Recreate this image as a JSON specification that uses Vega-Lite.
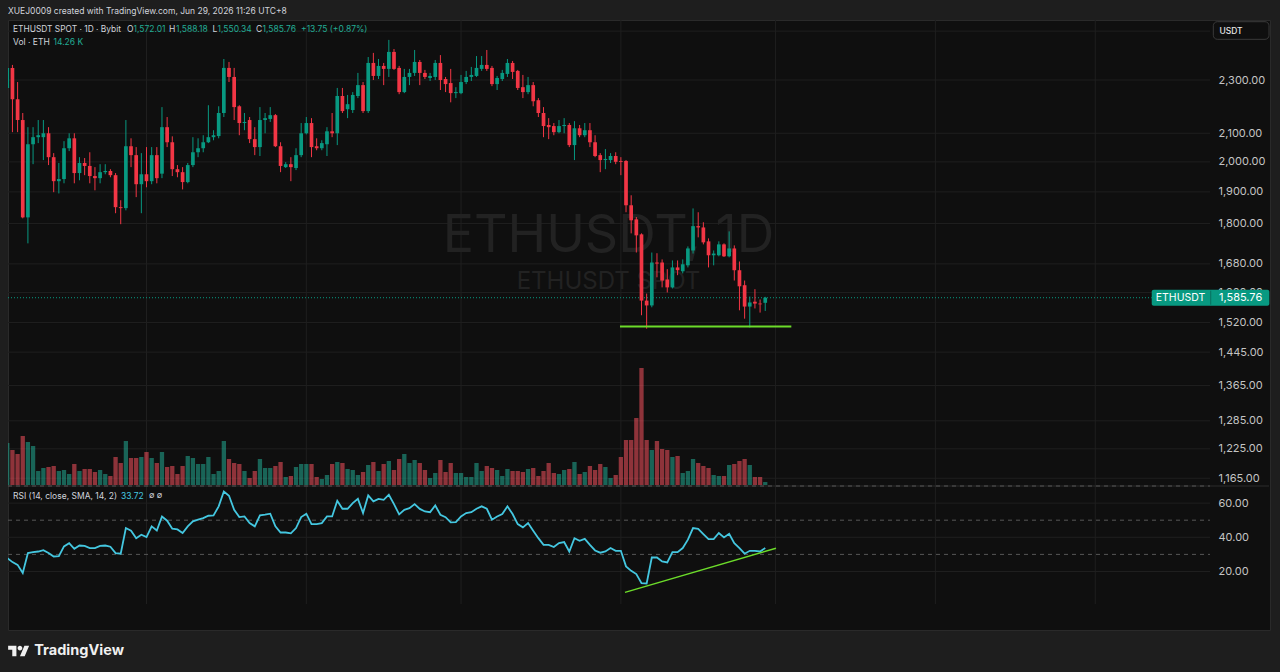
{
"$schema":"https://vega.github.io/schema/vega-lite/v6.json",
"width":1262,"height":610,
"autosize":{"type":"none"},
"padding":{"left":8,"top":20,"right":10,"bottom":42},
"background":"#1e1e1e",
"title":{"text":"XUEJ0009 created with TradingView.com, Jun 29, 2026 11:26 UTC+8","anchor":"start","frame":"group","fontSize":8.5,"fontWeight":400,"color":"#d1d4dc","offset":6,"dy":9,"baseline":"alphabetic","font":"Inter"},
"config":{"font":"Inter","view":{"fill":"#0f0f0f","stroke":"#2a2a2a","strokeWidth":1}},
"datasets":{"ohlc":[
{"date":"2026-02-02","open":2269,"high":2392,"low":2155,"close":2348,"volume":201.6,"rsi":27.8},
{"date":"2026-02-03","open":2348,"high":2360,"low":2104,"close":2226,"volume":168,"rsi":25.5},
{"date":"2026-02-04","open":2226,"high":2292,"low":2104,"close":2148,"volume":148.8,"rsi":23.9},
{"date":"2026-02-05","open":2148,"high":2174,"low":1816,"close":1819,"volume":235.2,"rsi":19.1},
{"date":"2026-02-06","open":1819,"high":2122,"low":1740,"close":2061,"volume":206.4,"rsi":30.8},
{"date":"2026-02-07","open":2061,"high":2122,"low":1992,"close":2086,"volume":187.2,"rsi":31.3},
{"date":"2026-02-08","open":2086,"high":2148,"low":2065,"close":2093,"volume":67.2,"rsi":31.7},
{"date":"2026-02-09","open":2086,"high":2148,"low":2006,"close":2100,"volume":81.6,"rsi":32.5},
{"date":"2026-02-10","open":2100,"high":2122,"low":1989,"close":2016,"volume":86.4,"rsi":30.8},
{"date":"2026-02-11","open":2016,"high":2030,"low":1899,"close":1935,"volume":91.2,"rsi":28.8},
{"date":"2026-02-12","open":1935,"high":1996,"low":1895,"close":1942,"volume":67.2,"rsi":29.0},
{"date":"2026-02-13","open":1942,"high":2072,"low":1928,"close":2047,"volume":72,"rsi":34.7},
{"date":"2026-02-14","open":2047,"high":2100,"low":2037,"close":2082,"volume":52.8,"rsi":36.6},
{"date":"2026-02-15","open":2082,"high":2100,"low":1928,"close":1962,"volume":100.8,"rsi":33.3},
{"date":"2026-02-16","open":1962,"high":2016,"low":1938,"close":1996,"volume":67.2,"rsi":35.2},
{"date":"2026-02-17","open":1996,"high":2013,"low":1955,"close":1986,"volume":76.8,"rsi":35.0},
{"date":"2026-02-18","open":1986,"high":2033,"low":1928,"close":1952,"volume":76.8,"rsi":33.7},
{"date":"2026-02-19","open":1952,"high":1982,"low":1905,"close":1945,"volume":62.4,"rsi":33.7},
{"date":"2026-02-20","open":1945,"high":1992,"low":1928,"close":1965,"volume":72,"rsi":35.0},
{"date":"2026-02-21","open":1965,"high":1992,"low":1958,"close":1969,"volume":52.8,"rsi":35.2},
{"date":"2026-02-22","open":1969,"high":1975,"low":1948,"close":1955,"volume":43.2,"rsi":34.5},
{"date":"2026-02-23","open":1955,"high":1962,"low":1832,"close":1851,"volume":134.4,"rsi":30.8},
{"date":"2026-02-24","open":1851,"high":1873,"low":1798,"close":1848,"volume":105.6,"rsi":30.4},
{"date":"2026-02-25","open":1848,"high":2148,"low":1841,"close":2054,"volume":211.2,"rsi":45.4},
{"date":"2026-02-26","open":2054,"high":2082,"low":1982,"close":2023,"volume":129.6,"rsi":43.8},
{"date":"2026-02-27","open":2023,"high":2051,"low":1883,"close":1925,"volume":129.6,"rsi":39.5},
{"date":"2026-02-28","open":1925,"high":2030,"low":1832,"close":1958,"volume":134.4,"rsi":41.5},
{"date":"2026-03-01","open":1958,"high":2051,"low":1915,"close":1935,"volume":158.4,"rsi":40.1},
{"date":"2026-03-02","open":1935,"high":2051,"low":1925,"close":2023,"volume":129.6,"rsi":46.4},
{"date":"2026-03-03","open":2023,"high":2051,"low":1928,"close":1945,"volume":105.6,"rsi":44.0},
{"date":"2026-03-04","open":1960,"high":2196,"low":1945,"close":2122,"volume":158.4,"rsi":52.2},
{"date":"2026-03-05","open":2122,"high":2159,"low":2051,"close":2068,"volume":86.4,"rsi":49.7},
{"date":"2026-03-06","open":2068,"high":2089,"low":1952,"close":1975,"volume":91.2,"rsi":45.0},
{"date":"2026-03-07","open":1975,"high":1989,"low":1948,"close":1965,"volume":52.8,"rsi":44.6},
{"date":"2026-03-08","open":1965,"high":1982,"low":1908,"close":1932,"volume":91.2,"rsi":42.5},
{"date":"2026-03-09","open":1932,"high":1996,"low":1928,"close":1989,"volume":139.2,"rsi":46.4},
{"date":"2026-03-10","open":1989,"high":2086,"low":1982,"close":2033,"volume":129.6,"rsi":49.3},
{"date":"2026-03-11","open":2033,"high":2082,"low":2016,"close":2047,"volume":100.8,"rsi":50.3},
{"date":"2026-03-12","open":2047,"high":2093,"low":2033,"close":2068,"volume":100.8,"rsi":51.2},
{"date":"2026-03-13","open":2068,"high":2203,"low":2065,"close":2086,"volume":134.4,"rsi":52.6},
{"date":"2026-03-14","open":2086,"high":2111,"low":2075,"close":2093,"volume":52.8,"rsi":52.8},
{"date":"2026-03-15","open":2090,"high":2199,"low":2082,"close":2174,"volume":67.2,"rsi":58.1},
{"date":"2026-03-16","open":2174,"high":2384,"low":2159,"close":2348,"volume":211.2,"rsi":66.8},
{"date":"2026-03-17","open":2348,"high":2372,"low":2292,"close":2312,"volume":124.8,"rsi":64.3},
{"date":"2026-03-18","open":2312,"high":2348,"low":2148,"close":2196,"volume":105.6,"rsi":56.1},
{"date":"2026-03-19","open":2199,"high":2203,"low":2093,"close":2137,"volume":100.8,"rsi":51.8},
{"date":"2026-03-20","open":2137,"high":2174,"low":2111,"close":2141,"volume":67.2,"rsi":52.2},
{"date":"2026-03-21","open":2148,"high":2159,"low":2065,"close":2079,"volume":33.6,"rsi":48.3},
{"date":"2026-03-22","open":2079,"high":2122,"low":2023,"close":2051,"volume":67.2,"rsi":46.4},
{"date":"2026-03-23","open":2051,"high":2196,"low":2020,"close":2148,"volume":124.8,"rsi":52.8},
{"date":"2026-03-24","open":2148,"high":2174,"low":2100,"close":2155,"volume":81.6,"rsi":53.2},
{"date":"2026-03-25","open":2152,"high":2196,"low":2141,"close":2166,"volume":81.6,"rsi":53.8},
{"date":"2026-03-26","open":2166,"high":2170,"low":2051,"close":2054,"volume":91.2,"rsi":46.4},
{"date":"2026-03-27","open":2054,"high":2068,"low":1965,"close":1986,"volume":110.4,"rsi":42.8},
{"date":"2026-03-28","open":1982,"high":1999,"low":1979,"close":1992,"volume":38.4,"rsi":42.8},
{"date":"2026-03-29","open":1992,"high":2016,"low":1935,"close":1982,"volume":43.2,"rsi":42.3},
{"date":"2026-03-30","open":1979,"high":2047,"low":1972,"close":2023,"volume":86.4,"rsi":45.4},
{"date":"2026-03-31","open":2023,"high":2137,"low":2016,"close":2100,"volume":100.8,"rsi":51.8},
{"date":"2026-04-01","open":2100,"high":2159,"low":2096,"close":2137,"volume":100.8,"rsi":53.8},
{"date":"2026-04-02","open":2137,"high":2155,"low":2016,"close":2051,"volume":100.8,"rsi":47.7},
{"date":"2026-04-03","open":2054,"high":2082,"low":2040,"close":2047,"volume":38.4,"rsi":47.7},
{"date":"2026-04-04","open":2047,"high":2075,"low":2040,"close":2065,"volume":28.8,"rsi":48.3},
{"date":"2026-04-05","open":2061,"high":2122,"low":2020,"close":2107,"volume":48,"rsi":52.2},
{"date":"2026-04-06","open":2107,"high":2174,"low":2086,"close":2100,"volume":100.8,"rsi":52.2},
{"date":"2026-04-07","open":2100,"high":2269,"low":2058,"close":2238,"volume":110.4,"rsi":61.4},
{"date":"2026-04-08","open":2238,"high":2269,"low":2174,"close":2181,"volume":105.6,"rsi":56.7},
{"date":"2026-04-09","open":2188,"high":2242,"low":2155,"close":2207,"volume":76.8,"rsi":56.7},
{"date":"2026-04-10","open":2185,"high":2253,"low":2174,"close":2242,"volume":72,"rsi":60.0},
{"date":"2026-04-11","open":2238,"high":2328,"low":2230,"close":2280,"volume":48,"rsi":62.5},
{"date":"2026-04-12","open":2280,"high":2292,"low":2174,"close":2181,"volume":62.4,"rsi":54.2},
{"date":"2026-04-13","open":2181,"high":2392,"low":2174,"close":2368,"volume":96,"rsi":64.5},
{"date":"2026-04-14","open":2368,"high":2409,"low":2300,"close":2316,"volume":110.4,"rsi":61.0},
{"date":"2026-04-15","open":2316,"high":2384,"low":2304,"close":2356,"volume":67.2,"rsi":62.5},
{"date":"2026-04-16","open":2356,"high":2368,"low":2280,"close":2344,"volume":100.8,"rsi":61.9},
{"date":"2026-04-17","open":2344,"high":2463,"low":2312,"close":2413,"volume":115.2,"rsi":64.9},
{"date":"2026-04-18","open":2413,"high":2425,"low":2340,"close":2344,"volume":72,"rsi":59.4},
{"date":"2026-04-19","open":2348,"high":2356,"low":2245,"close":2253,"volume":124.8,"rsi":53.4},
{"date":"2026-04-20","open":2253,"high":2344,"low":2249,"close":2312,"volume":148.8,"rsi":56.1},
{"date":"2026-04-21","open":2312,"high":2344,"low":2280,"close":2328,"volume":105.6,"rsi":57.0},
{"date":"2026-04-22","open":2328,"high":2421,"low":2316,"close":2372,"volume":120,"rsi":59.4},
{"date":"2026-04-23","open":2372,"high":2380,"low":2280,"close":2328,"volume":105.6,"rsi":56.6},
{"date":"2026-04-24","open":2328,"high":2340,"low":2304,"close":2312,"volume":72,"rsi":55.1},
{"date":"2026-04-25","open":2308,"high":2328,"low":2296,"close":2316,"volume":33.6,"rsi":54.7},
{"date":"2026-04-26","open":2312,"high":2380,"low":2300,"close":2368,"volume":57.6,"rsi":58.6},
{"date":"2026-04-27","open":2368,"high":2400,"low":2261,"close":2300,"volume":120,"rsi":53.2},
{"date":"2026-04-28","open":2304,"high":2312,"low":2253,"close":2284,"volume":62.4,"rsi":51.8},
{"date":"2026-04-29","open":2288,"high":2344,"low":2214,"close":2249,"volume":105.6,"rsi":48.7},
{"date":"2026-04-30","open":2249,"high":2272,"low":2230,"close":2253,"volume":57.6,"rsi":48.9},
{"date":"2026-05-01","open":2249,"high":2320,"low":2245,"close":2292,"volume":57.6,"rsi":52.2},
{"date":"2026-05-02","open":2292,"high":2336,"low":2284,"close":2312,"volume":38.4,"rsi":54.2},
{"date":"2026-05-03","open":2312,"high":2352,"low":2296,"close":2320,"volume":38.4,"rsi":54.7},
{"date":"2026-05-04","open":2316,"high":2396,"low":2312,"close":2348,"volume":105.6,"rsi":56.7},
{"date":"2026-05-05","open":2344,"high":2396,"low":2336,"close":2360,"volume":67.2,"rsi":58.1},
{"date":"2026-05-06","open":2360,"high":2421,"low":2336,"close":2344,"volume":91.2,"rsi":56.7},
{"date":"2026-05-07","open":2348,"high":2356,"low":2276,"close":2284,"volume":81.6,"rsi":50.3},
{"date":"2026-05-08","open":2284,"high":2316,"low":2261,"close":2308,"volume":72,"rsi":52.2},
{"date":"2026-05-09","open":2304,"high":2340,"low":2296,"close":2328,"volume":43.2,"rsi":53.6},
{"date":"2026-05-10","open":2324,"high":2384,"low":2312,"close":2368,"volume":76.8,"rsi":58.1},
{"date":"2026-05-11","open":2368,"high":2376,"low":2304,"close":2332,"volume":67.2,"rsi":53.6},
{"date":"2026-05-12","open":2336,"high":2340,"low":2261,"close":2269,"volume":67.2,"rsi":47.7},
{"date":"2026-05-13","open":2272,"high":2320,"low":2230,"close":2253,"volume":62.4,"rsi":45.8},
{"date":"2026-05-14","open":2253,"high":2312,"low":2245,"close":2280,"volume":76.8,"rsi":48.3},
{"date":"2026-05-15","open":2280,"high":2292,"low":2199,"close":2218,"volume":81.6,"rsi":43.8},
{"date":"2026-05-16","open":2222,"high":2230,"low":2159,"close":2174,"volume":43.2,"rsi":39.5},
{"date":"2026-05-17","open":2174,"high":2196,"low":2086,"close":2126,"volume":67.2,"rsi":35.6},
{"date":"2026-05-18","open":2130,"high":2155,"low":2079,"close":2122,"volume":105.6,"rsi":35.6},
{"date":"2026-05-19","open":2126,"high":2137,"low":2093,"close":2104,"volume":57.6,"rsi":34.3},
{"date":"2026-05-20","open":2104,"high":2148,"low":2100,"close":2126,"volume":52.8,"rsi":36.6},
{"date":"2026-05-21","open":2126,"high":2155,"low":2100,"close":2130,"volume":72,"rsi":37.2},
{"date":"2026-05-22","open":2130,"high":2137,"low":2051,"close":2058,"volume":76.8,"rsi":31.7},
{"date":"2026-05-23","open":2058,"high":2144,"low":2006,"close":2118,"volume":110.4,"rsi":39.5},
{"date":"2026-05-24","open":2118,"high":2130,"low":2086,"close":2093,"volume":52.8,"rsi":38.0},
{"date":"2026-05-25","open":2093,"high":2137,"low":2086,"close":2111,"volume":62.4,"rsi":39.1},
{"date":"2026-05-26","open":2111,"high":2137,"low":2051,"close":2068,"volume":91.2,"rsi":35.6},
{"date":"2026-05-27","open":2068,"high":2093,"low":2016,"close":2020,"volume":72,"rsi":32.3},
{"date":"2026-05-28","open":2023,"high":2030,"low":1965,"close":2006,"volume":100.8,"rsi":31.0},
{"date":"2026-05-29","open":2006,"high":2044,"low":1975,"close":2010,"volume":86.4,"rsi":31.7},
{"date":"2026-05-30","open":2006,"high":2030,"low":1996,"close":2020,"volume":33.6,"rsi":33.7},
{"date":"2026-05-31","open":2020,"high":2033,"low":1992,"close":2000,"volume":48,"rsi":32.1},
{"date":"2026-06-01","open":2003,"high":2016,"low":1955,"close":2000,"volume":134.4,"rsi":32.1},
{"date":"2026-06-02","open":2003,"high":2006,"low":1835,"close":1857,"volume":216,"rsi":23.0},
{"date":"2026-06-03","open":1857,"high":1889,"low":1770,"close":1810,"volume":216,"rsi":20.4},
{"date":"2026-06-04","open":1813,"high":1820,"low":1713,"close":1764,"volume":321.6,"rsi":18.5},
{"date":"2026-06-05","open":1767,"high":1770,"low":1539,"close":1578,"volume":561.6,"rsi":13.2},
{"date":"2026-06-06","open":1578,"high":1597,"low":1504,"close":1565,"volume":216,"rsi":13.0},
{"date":"2026-06-07","open":1565,"high":1713,"low":1560,"close":1684,"volume":168,"rsi":28.2},
{"date":"2026-06-08","open":1684,"high":1711,"low":1642,"close":1681,"volume":211.2,"rsi":28.2},
{"date":"2026-06-09","open":1684,"high":1693,"low":1614,"close":1633,"volume":172.8,"rsi":25.9},
{"date":"2026-06-10","open":1636,"high":1665,"low":1600,"close":1614,"volume":168,"rsi":25.3},
{"date":"2026-06-11","open":1614,"high":1690,"low":1611,"close":1670,"volume":134.4,"rsi":31.3},
{"date":"2026-06-12","open":1670,"high":1690,"low":1648,"close":1662,"volume":139.2,"rsi":31.3},
{"date":"2026-06-13","open":1659,"high":1693,"low":1653,"close":1679,"volume":57.6,"rsi":33.7},
{"date":"2026-06-14","open":1676,"high":1731,"low":1670,"close":1725,"volume":67.2,"rsi":38.6},
{"date":"2026-06-15","open":1719,"high":1847,"low":1710,"close":1792,"volume":124.8,"rsi":45.4},
{"date":"2026-06-16","open":1792,"high":1835,"low":1758,"close":1788,"volume":105.6,"rsi":45.0},
{"date":"2026-06-17","open":1788,"high":1804,"low":1737,"close":1743,"volume":91.2,"rsi":41.9},
{"date":"2026-06-18","open":1746,"high":1755,"low":1670,"close":1705,"volume":81.6,"rsi":38.9},
{"date":"2026-06-19","open":1705,"high":1719,"low":1676,"close":1710,"volume":48,"rsi":38.9},
{"date":"2026-06-20","open":1705,"high":1746,"low":1702,"close":1737,"volume":43.2,"rsi":42.5},
{"date":"2026-06-21","open":1737,"high":1740,"low":1700,"close":1702,"volume":43.2,"rsi":39.9},
{"date":"2026-06-22","open":1702,"high":1776,"low":1699,"close":1725,"volume":96,"rsi":42.1},
{"date":"2026-06-23","open":1725,"high":1734,"low":1633,"close":1662,"volume":100.8,"rsi":36.6},
{"date":"2026-06-24","open":1662,"high":1687,"low":1552,"close":1617,"volume":115.2,"rsi":33.7},
{"date":"2026-06-25","open":1620,"high":1633,"low":1530,"close":1562,"volume":124.8,"rsi":30.4},
{"date":"2026-06-26","open":1562,"high":1589,"low":1507,"close":1573,"volume":96,"rsi":32.1},
{"date":"2026-06-27","open":1575,"high":1609,"low":1557,"close":1570,"volume":38.4,"rsi":32.1},
{"date":"2026-06-28","open":1570,"high":1581,"low":1546,"close":1568,"volume":38.4,"rsi":31.7},
{"date":"2026-06-29","open":1572.01,"high":1588.18,"low":1550.34,"close":1585.76,"volume":14.26,"rsi":33.72}
]},
"resolve":{"scale":{"y":"independent"},"axis":{"y":"independent"}},
"layer":[
{"data":{"values":[{"m":"2026-03-01"},{"m":"2026-04-01"},{"m":"2026-05-01"},{"m":"2026-06-01"},{"m":"2026-07-01"},{"m":"2026-08-01"},{"m":"2026-09-01"}]},
 "mark":{"type":"rule","color":"#1f1f1f","strokeWidth":1},
 "encoding":{
  "x":{"field":"m","type":"temporal","scale":{"type":"utc","domain":[{"year":2026,"month":2,"date":2,"hours":3,"minutes":19,"utc":true},{"year":2026,"month":9,"date":23,"hours":6,"minutes":14,"utc":true}],"range":[0,1202],"nice":false,"padding":0},
   "axis":{"orient":"bottom","offset":-26,"values":[{"year":2026,"month":3,"date":1,"utc":true},{"year":2026,"month":4,"date":1,"utc":true},{"year":2026,"month":5,"date":1,"utc":true},{"year":2026,"month":6,"date":1,"utc":true},{"year":2026,"month":7,"date":1,"utc":true},{"year":2026,"month":8,"date":1,"utc":true},{"year":2026,"month":9,"date":1,"utc":true}],"labelExpr":"utcFormat(datum.value, '%b')","domain":false,"ticks":false,"grid":false,"labelPadding":7,"labelColor":"#c4c4c4","labelFontSize":11.5,"labelFontWeight":500,"labelFont":"Inter","labelFlush":false,"labelOverlap":false,"labelBaseline":"top","title":null}},
  "y":{"datum":0,"type":"quantitative","scale":{"type":"linear","domain":[0,1],"range":[584,0],"nice":false,"zero":false},"axis":null},
  "y2":{"datum":1}}},
{"data":{"values":[{"p":1165},{"p":1225},{"p":1285},{"p":1365},{"p":1445},{"p":1520},{"p":1600},{"p":1680},{"p":1800},{"p":1900},{"p":2000},{"p":2100},{"p":2300},{"p":2500}]},
 "mark":{"type":"rule","color":"#1f1f1f","strokeWidth":1},
 "encoding":{
  "y":{"field":"p","type":"quantitative","scale":{"type":"log","domain":[1149.7,2548.2],"range":[466,0],"nice":false},
   "axis":{"orient":"right","values":[1165,1225,1285,1365,1445,1520,1600,1680,1800,1900,2000,2100,2300],"format":",.2f","labelPadding":-52,"tickSize":0,"ticks":false,"domain":false,"grid":false,"labelAlign":"left","labelBaseline":"middle","labelColor":"#c4c4c4","labelFontSize":11,"labelFont":"Inter","labelFlush":false,"labelOverlap":false,"title":null}},
  "x":{"datum":{"year":2026,"month":2,"date":2,"hours":3,"minutes":19,"utc":true},"type":"temporal","axis":null},
  "x2":{"datum":{"year":2026,"month":9,"date":23,"hours":6,"minutes":14,"utc":true}}}},
{"data":{"values":[{"r":20},{"r":40},{"r":60}]},
 "mark":{"type":"rule","color":"#1f1f1f","strokeWidth":1},
 "encoding":{
  "y":{"field":"r","type":"quantitative","scale":{"type":"linear","domain":[1,70],"range":[584,466],"nice":false,"zero":false},
   "axis":{"orient":"right","values":[20,40,60],"format":".2f","labelPadding":-52,"tickSize":0,"ticks":false,"domain":false,"grid":false,"labelAlign":"left","labelBaseline":"middle","labelColor":"#c4c4c4","labelFontSize":11,"labelFont":"Inter","labelFlush":false,"labelOverlap":false,"title":null}},
  "x":{"datum":{"year":2026,"month":2,"date":2,"hours":3,"minutes":19,"utc":true},"type":"temporal","axis":null},
  "x2":{"datum":{"year":2026,"month":9,"date":23,"hours":6,"minutes":14,"utc":true}}}},
{"data":{"values":[{}]},
 "mark":{"type":"rule","color":"#2c2c2c","strokeWidth":1},
 "encoding":{
  "y":{"datum":70,"type":"quantitative","scale":{"type":"linear","domain":[1,70],"range":[584,466],"nice":false,"zero":false},"axis":null},
  "x":{"datum":{"year":2026,"month":2,"date":2,"hours":3,"minutes":19,"utc":true},"type":"temporal","axis":null},
  "x2":{"datum":{"year":2026,"month":10,"date":4,"hours":17,"utc":true}}}},
{"data":{"values":[{"r":30},{"r":50},{"r":70}]},
 "mark":{"type":"rule","color":"#575757","strokeWidth":1,"strokeDash":[4,4]},
 "encoding":{
  "y":{"field":"r","type":"quantitative","scale":{"type":"linear","domain":[1,70],"range":[584,466],"nice":false,"zero":false},"axis":null},
  "x":{"datum":{"year":2026,"month":2,"date":2,"hours":3,"minutes":19,"utc":true},"type":"temporal","axis":null},
  "x2":{"datum":{"year":2026,"month":9,"date":23,"hours":6,"minutes":14,"utc":true}}}},
{"data":{"values":[{}]},
 "mark":{"type":"text","text":"ETHUSDT, 1D","fontSize":52,"color":"#222222","align":"center","baseline":"middle","font":"Inter"},
 "encoding":{
  "x":{"datum":{"year":2026,"month":5,"date":29,"hours":14,"minutes":24,"utc":true},"type":"temporal","axis":null},
  "y":{"datum":1762,"type":"quantitative","scale":{"type":"log","domain":[1149.7,2548.2],"range":[466,0],"nice":false},"axis":null}}},
{"data":{"values":[{}]},
 "mark":{"type":"text","text":"ETHUSDT SPOT","fontSize":24,"color":"#222222","align":"center","baseline":"middle","font":"Inter"},
 "encoding":{
  "x":{"datum":{"year":2026,"month":5,"date":29,"hours":14,"minutes":24,"utc":true},"type":"temporal","axis":null},
  "y":{"datum":1628.9,"type":"quantitative","scale":{"type":"log","domain":[1149.7,2548.2],"range":[466,0],"nice":false},"axis":null}}},
{"data":{"name":"ohlc"},
 "mark":{"type":"bar","size":4.3,"opacity":0.55,"clip":true},
 "encoding":{
  "x":{"field":"date","type":"temporal","axis":null},
  "y":{"field":"volume","type":"quantitative","scale":{"type":"linear","domain":[0,2232],"range":[465,0],"nice":false},"axis":null},
  "color":{"condition":{"test":"datum.close >= datum.open","value":"#22ab94"},"value":"#f7525f"}}},
{"data":{"values":[{}]},
 "mark":{"type":"rule","color":"#089981","strokeWidth":1,"strokeDash":[1,2]},
 "encoding":{
  "y":{"datum":1585.76,"type":"quantitative","scale":{"type":"log","domain":[1149.7,2548.2],"range":[466,0],"nice":false},"axis":null},
  "x":{"datum":{"year":2026,"month":2,"date":2,"hours":3,"minutes":19,"utc":true},"type":"temporal","axis":null},
  "x2":{"datum":{"year":2026,"month":9,"date":11,"hours":23,"utc":true}}}},
{"data":{"name":"ohlc"},
 "mark":{"type":"rule","strokeWidth":1,"clip":true},
 "encoding":{
  "x":{"field":"date","type":"temporal","axis":null},
  "y":{"field":"low","type":"quantitative","scale":{"type":"log","domain":[1149.7,2548.2],"range":[466,0],"nice":false},"axis":null},
  "y2":{"field":"high"},
  "color":{"condition":{"test":"datum.close >= datum.open","value":"#089981"},"value":"#f23645"}}},
{"data":{"name":"ohlc"},
 "mark":{"type":"bar","size":3.7,"clip":true},
 "encoding":{
  "x":{"field":"date","type":"temporal","axis":null},
  "y":{"field":"open","type":"quantitative","scale":{"type":"log","domain":[1149.7,2548.2],"range":[466,0],"nice":false},"axis":null},
  "y2":{"field":"close"},
  "color":{"condition":{"test":"datum.close >= datum.open","value":"#089981"},"value":"#f23645"}}},
{"data":{"values":[{"start":"2026-05-31T19:55:00Z","end":"2026-07-04T01:26:00Z","price":1509.7}]},
 "mark":{"type":"rule","color":"#6cdc2a","strokeWidth":2},
 "encoding":{
  "x":{"field":"start","type":"temporal","axis":null},
  "x2":{"field":"end"},
  "y":{"field":"price","type":"quantitative","scale":{"type":"log","domain":[1149.7,2548.2],"range":[466,0],"nice":false},"axis":null}}},
{"data":{"name":"ohlc"},
 "mark":{"type":"line","color":"#44c7e0","strokeWidth":1.8,"clip":true},
 "encoding":{
  "x":{"field":"date","type":"temporal","axis":null},
  "y":{"field":"rsi","type":"quantitative","scale":{"type":"linear","domain":[1,70],"range":[584,466],"nice":false,"zero":false},"axis":null}}},
{"data":{"values":[{"date":"2026-06-01T19:12:00Z","rsi":7.8},{"date":"2026-07-01T02:00:00Z","rsi":33.6}]},
 "mark":{"type":"line","color":"#6cdc2a","strokeWidth":1.5},
 "encoding":{
  "x":{"field":"date","type":"temporal","axis":null},
  "y":{"field":"rsi","type":"quantitative","scale":{"type":"linear","domain":[1,70],"range":[584,466],"nice":false,"zero":false},"axis":null}}},
{"data":{"values":[{}]},
 "mark":{"type":"rect","color":"#089981","cornerRadius":2},
 "encoding":{
  "x":{"datum":{"year":2026,"month":9,"date":11,"hours":23,"utc":true},"type":"temporal","axis":null},
  "x2":{"datum":{"year":2026,"month":10,"date":4,"hours":18,"minutes":30,"utc":true}},
  "y":{"datum":1607.6,"type":"quantitative","scale":{"type":"log","domain":[1149.7,2548.2],"range":[466,0],"nice":false},"axis":null},
  "y2":{"datum":1564.3}}},
{"data":{"values":[{}]},
 "mark":{"type":"rule","color":"#0a6f5f","strokeWidth":1},
 "encoding":{
  "x":{"datum":{"year":2026,"month":9,"date":23,"hours":9,"minutes":36,"utc":true},"type":"temporal","axis":null},
  "y":{"datum":1605,"type":"quantitative","scale":{"type":"log","domain":[1149.7,2548.2],"range":[466,0],"nice":false},"axis":null},
  "y2":{"datum":1567}}},
{"data":{"values":[{}]},
 "mark":{"type":"text","text":"ETHUSDT","fontSize":10.5,"color":"#ffffff","align":"left","baseline":"middle"},
 "encoding":{
  "x":{"datum":{"year":2026,"month":9,"date":12,"hours":17,"minutes":45,"utc":true},"type":"temporal","axis":null},
  "y":{"datum":1585.76,"type":"quantitative","scale":{"type":"log","domain":[1149.7,2548.2],"range":[466,0],"nice":false},"axis":null}}},
{"data":{"values":[{}]},
 "mark":{"type":"text","text":"1,585.76","fontSize":11,"color":"#ffffff","align":"left","baseline":"middle"},
 "encoding":{
  "x":{"datum":{"year":2026,"month":9,"date":25,"utc":true},"type":"temporal","axis":null},
  "y":{"datum":1585.76,"type":"quantitative","scale":{"type":"log","domain":[1149.7,2548.2],"range":[466,0],"nice":false},"axis":null}}},
{"data":{"values":[{}]},
 "mark":{"type":"rect","fill":"#0f0f0f","stroke":"#3a3a3a","strokeWidth":1,"cornerRadius":4},
 "encoding":{
  "x":{"datum":{"year":2026,"month":9,"date":23,"hours":21,"minutes":40,"utc":true},"type":"temporal","axis":null},
  "x2":{"datum":{"year":2026,"month":10,"date":4,"hours":17,"utc":true}},
  "y":{"datum":2540.8,"type":"quantitative","scale":{"type":"log","domain":[1149.7,2548.2],"range":[466,0],"nice":false},"axis":null},
  "y2":{"datum":2465.5}}},
{"data":{"values":[{}]},
 "mark":{"type":"text","text":"USDT","fontSize":8.5,"fontWeight":500,"color":"#e6e6e6","align":"left","baseline":"middle"},
 "encoding":{
  "x":{"datum":{"year":2026,"month":9,"date":25,"hours":2,"utc":true},"type":"temporal","axis":null},
  "y":{"datum":2502,"type":"quantitative","scale":{"type":"log","domain":[1149.7,2548.2],"range":[466,0],"nice":false},"axis":null}}},
{"data":{"values":[{}]},
 "mark":{"type":"text","text":"ETHUSDT SPOT · 1D · Bybit","fontSize":8.4,"color":"#d1d4dc","align":"left","baseline":"middle","dx":0},
 "encoding":{
  "x":{"datum":{"year":2026,"month":2,"date":3,"hours":2,"minutes":38,"utc":true},"type":"temporal","axis":null},
  "y":{"datum":2509.3,"type":"quantitative","scale":{"type":"log","domain":[1149.7,2548.2],"range":[466,0],"nice":false},"axis":null}}},
{"data":{"values":[{}]},
 "mark":{"type":"text","text":"O","fontSize":8.5,"color":"#d1d4dc","align":"left","baseline":"middle","dx":114},
 "encoding":{
  "x":{"datum":{"year":2026,"month":2,"date":3,"hours":2,"minutes":38,"utc":true},"type":"temporal","axis":null},
  "y":{"datum":2509.3,"type":"quantitative","scale":{"type":"log","domain":[1149.7,2548.2],"range":[466,0],"nice":false},"axis":null}}},
{"data":{"values":[{}]},
 "mark":{"type":"text","text":"1,572.01","fontSize":8.5,"color":"#22ab94","align":"left","baseline":"middle","dx":120.5},
 "encoding":{
  "x":{"datum":{"year":2026,"month":2,"date":3,"hours":2,"minutes":38,"utc":true},"type":"temporal","axis":null},
  "y":{"datum":2509.3,"type":"quantitative","scale":{"type":"log","domain":[1149.7,2548.2],"range":[466,0],"nice":false},"axis":null}}},
{"data":{"values":[{}]},
 "mark":{"type":"text","text":"H","fontSize":8.5,"color":"#d1d4dc","align":"left","baseline":"middle","dx":156},
 "encoding":{
  "x":{"datum":{"year":2026,"month":2,"date":3,"hours":2,"minutes":38,"utc":true},"type":"temporal","axis":null},
  "y":{"datum":2509.3,"type":"quantitative","scale":{"type":"log","domain":[1149.7,2548.2],"range":[466,0],"nice":false},"axis":null}}},
{"data":{"values":[{}]},
 "mark":{"type":"text","text":"1,588.18","fontSize":8.5,"color":"#22ab94","align":"left","baseline":"middle","dx":163},
 "encoding":{
  "x":{"datum":{"year":2026,"month":2,"date":3,"hours":2,"minutes":38,"utc":true},"type":"temporal","axis":null},
  "y":{"datum":2509.3,"type":"quantitative","scale":{"type":"log","domain":[1149.7,2548.2],"range":[466,0],"nice":false},"axis":null}}},
{"data":{"values":[{}]},
 "mark":{"type":"text","text":"L","fontSize":8.5,"color":"#d1d4dc","align":"left","baseline":"middle","dx":199.5},
 "encoding":{
  "x":{"datum":{"year":2026,"month":2,"date":3,"hours":2,"minutes":38,"utc":true},"type":"temporal","axis":null},
  "y":{"datum":2509.3,"type":"quantitative","scale":{"type":"log","domain":[1149.7,2548.2],"range":[466,0],"nice":false},"axis":null}}},
{"data":{"values":[{}]},
 "mark":{"type":"text","text":"1,550.34","fontSize":8.5,"color":"#22ab94","align":"left","baseline":"middle","dx":204.5},
 "encoding":{
  "x":{"datum":{"year":2026,"month":2,"date":3,"hours":2,"minutes":38,"utc":true},"type":"temporal","axis":null},
  "y":{"datum":2509.3,"type":"quantitative","scale":{"type":"log","domain":[1149.7,2548.2],"range":[466,0],"nice":false},"axis":null}}},
{"data":{"values":[{}]},
 "mark":{"type":"text","text":"C","fontSize":8.5,"color":"#d1d4dc","align":"left","baseline":"middle","dx":243},
 "encoding":{
  "x":{"datum":{"year":2026,"month":2,"date":3,"hours":2,"minutes":38,"utc":true},"type":"temporal","axis":null},
  "y":{"datum":2509.3,"type":"quantitative","scale":{"type":"log","domain":[1149.7,2548.2],"range":[466,0],"nice":false},"axis":null}}},
{"data":{"values":[{}]},
 "mark":{"type":"text","text":"1,585.76","fontSize":8.5,"color":"#22ab94","align":"left","baseline":"middle","dx":249.5},
 "encoding":{
  "x":{"datum":{"year":2026,"month":2,"date":3,"hours":2,"minutes":38,"utc":true},"type":"temporal","axis":null},
  "y":{"datum":2509.3,"type":"quantitative","scale":{"type":"log","domain":[1149.7,2548.2],"range":[466,0],"nice":false},"axis":null}}},
{"data":{"values":[{}]},
 "mark":{"type":"text","text":"+13.75 (+0.87%)","fontSize":8.5,"color":"#22ab94","align":"left","baseline":"middle","dx":288},
 "encoding":{
  "x":{"datum":{"year":2026,"month":2,"date":3,"hours":2,"minutes":38,"utc":true},"type":"temporal","axis":null},
  "y":{"datum":2509.3,"type":"quantitative","scale":{"type":"log","domain":[1149.7,2548.2],"range":[466,0],"nice":false},"axis":null}}},
{"data":{"values":[{}]},
 "mark":{"type":"text","text":"Vol · ETH","fontSize":8.5,"color":"#d1d4dc","align":"left","baseline":"middle","dx":0},
 "encoding":{
  "x":{"datum":{"year":2026,"month":2,"date":3,"hours":2,"minutes":38,"utc":true},"type":"temporal","axis":null},
  "y":{"datum":2454.3,"type":"quantitative","scale":{"type":"log","domain":[1149.7,2548.2],"range":[466,0],"nice":false},"axis":null}}},
{"data":{"values":[{}]},
 "mark":{"type":"text","text":"14.26 K","fontSize":8.5,"color":"#22ab94","align":"left","baseline":"middle","dx":40.5},
 "encoding":{
  "x":{"datum":{"year":2026,"month":2,"date":3,"hours":2,"minutes":38,"utc":true},"type":"temporal","axis":null},
  "y":{"datum":2454.3,"type":"quantitative","scale":{"type":"log","domain":[1149.7,2548.2],"range":[466,0],"nice":false},"axis":null}}},
{"data":{"values":[{}]},
 "mark":{"type":"text","text":"RSI (14, close, SMA, 14, 2)","fontSize":8.5,"color":"#d1d4dc","align":"left","baseline":"middle","dx":0},
 "encoding":{
  "x":{"datum":{"year":2026,"month":2,"date":3,"hours":2,"minutes":38,"utc":true},"type":"temporal","axis":null},
  "y":{"datum":64.15,"type":"quantitative","scale":{"type":"linear","domain":[1,70],"range":[584,466],"nice":false,"zero":false},"axis":null}}},
{"data":{"values":[{}]},
 "mark":{"type":"text","text":"33.72","fontSize":8.5,"color":"#44c7e0","align":"left","baseline":"middle","dx":108},
 "encoding":{
  "x":{"datum":{"year":2026,"month":2,"date":3,"hours":2,"minutes":38,"utc":true},"type":"temporal","axis":null},
  "y":{"datum":64.15,"type":"quantitative","scale":{"type":"linear","domain":[1,70],"range":[584,466],"nice":false,"zero":false},"axis":null}}},
{"data":{"values":[{}]},
 "mark":{"type":"text","text":"∅  ∅","fontSize":8,"color":"#d1d4dc","align":"left","baseline":"middle","dx":136},
 "encoding":{
  "x":{"datum":{"year":2026,"month":2,"date":3,"hours":2,"minutes":38,"utc":true},"type":"temporal","axis":null},
  "y":{"datum":64.15,"type":"quantitative","scale":{"type":"linear","domain":[1,70],"range":[584,466],"nice":false,"zero":false},"axis":null}}},
{"data":{"values":[{}]},
 "mark":{"type":"text","text":"TradingView","fontSize":14.5,"fontWeight":700,"color":"#f0f0f0","align":"left","baseline":"middle"},
 "encoding":{
  "x":{"datum":{"year":2026,"month":2,"date":7,"hours":5,"minutes":17,"utc":true},"type":"temporal","axis":null},
  "y":{"datum":-0.0805,"type":"quantitative","scale":{"type":"linear","domain":[0,1],"range":[584,0],"nice":false,"zero":false},"axis":null}}},
{"data":{"values":[{}]},
 "mark":{"type":"point","filled":true,"opacity":1,"color":"#f0f0f0","size":441,"strokeWidth":0,"shape":"M-1,-0.507L-0.211,-0.507L-0.211,0.507L-0.606,0.507L-0.606,-0.113L-1,-0.113Z M-0.098,-0.282A0.225,0.225 0 1 0 0.352,-0.282A0.225,0.225 0 1 0 -0.098,-0.282Z M0.127,0.507L0.549,-0.507L1,-0.507L0.577,0.507Z"},
 "encoding":{
  "x":{"datum":{"year":2026,"month":2,"date":4,"hours":4,"minutes":48,"utc":true},"type":"temporal","axis":null},
  "y":{"datum":-0.0805,"type":"quantitative","scale":{"type":"linear","domain":[0,1],"range":[584,0],"nice":false,"zero":false},"axis":null}}}
]
}
